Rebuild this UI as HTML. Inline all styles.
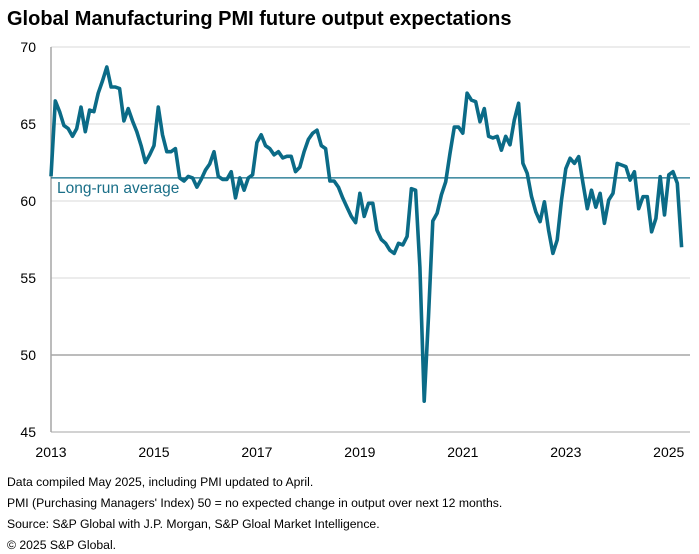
<!DOCTYPE html>
<html><head><meta charset="utf-8"><style>
body{margin:0;background:#fff;font-family:"Liberation Sans",Arial,sans-serif;}
#wrap{position:relative;width:699px;height:554px;overflow:hidden;}
.t{position:absolute;white-space:nowrap;color:#000;}
</style></head><body>
<div id="wrap">
<div class="t" style="left:7px;top:8px;font-size:20px;font-weight:bold;">Global Manufacturing PMI future output expectations</div>
<svg id="chart" width="699" height="470" style="position:absolute;left:0;top:0"></svg>
<div class="t" style="left:7px;top:475px;font-size:12.2px;">Data compiled May 2025, including PMI updated to April.</div>
<div class="t" style="left:7px;top:496px;font-size:12.2px;">PMI (Purchasing Managers' Index) 50 = no expected change in output over next 12 months.</div>
<div class="t" style="left:7px;top:517px;font-size:12.2px;">Source: S&amp;P Global with J.P. Morgan, S&amp;P Gloal Market Intelligence.</div>
<div class="t" style="left:7px;top:538px;font-size:12.2px;">© 2025 S&amp;P Global.</div>
</div>
<script>
const yTicks=[45,50,55,60,65,70];
const xTickLabels=["2013","2015","2017","2019","2021","2023","2025"];
const longRunAverage=61.5;
const values=[61.6,66.5,65.8,64.9,64.7,64.2,64.7,66.1,64.5,65.9,65.8,67.0,67.8,68.7,67.4,67.4,67.3,65.2,66.0,65.2,64.5,63.6,62.5,63.0,63.6,66.1,64.3,63.2,63.2,63.4,61.5,61.3,61.6,61.5,60.9,61.4,62.0,62.4,63.2,61.6,61.4,61.4,61.9,60.2,61.5,60.7,61.5,61.7,63.8,64.3,63.6,63.4,63.0,63.2,62.8,62.9,62.9,61.9,62.2,63.2,64.0,64.4,64.6,63.6,63.4,61.3,61.3,60.9,60.2,59.6,59.0,58.6,60.5,59.0,
59.85,59.85,58.1,57.5,57.25,56.8,56.6,57.25,57.15,57.7,60.8,60.7,55.7,47.0,52.5,58.7,59.2,60.4,61.25,63.1,64.8,64.8,64.4,67.0,66.55,66.45,65.15,66.0,64.2,64.1,64.2,63.3,64.2,63.65,65.25,66.35,62.45,61.8,60.3,59.3,58.66,59.95,58.1,56.6,57.47,60.06,62.1,62.77,62.44,62.88,61.15,59.5,60.7,59.6,60.5,58.55,60.06,60.5,62.44,62.34,62.23,61.36,61.9,59.5,60.28,60.28,58.0,58.87,61.58,59.1,61.7,61.9,61.15,57.0];
const NS="http://www.w3.org/2000/svg";
const svg=document.getElementById('chart');
const x0=51,pxPerMonth=4.29,plotRight=690;
const xS=m=>x0+m*pxPerMonth;
const yS=v=>432-(v-45)*15.4;
function mk(tag,attrs){const e=document.createElementNS(NS,tag);for(const k in attrs)e.setAttribute(k,attrs[k]);svg.appendChild(e);return e;}
yTicks.forEach(v=>{
 const g=mk('line',{x1:x0,x2:plotRight,y1:yS(v),y2:yS(v),stroke:(v===50||v===45)?'#a6a6a6':'#d9d9d9','stroke-width':v===50?1.5:1});
 
 
 const t=mk('text',{x:36,y:yS(v)+5,'text-anchor':'end','font-size':14,fill:'#000'});
 t.textContent=v;
 
 
});
const ax=mk('line',{x1:x0,x2:x0,y1:yS(70),y2:yS(45),stroke:'#a6a6a6','stroke-width':1.5});


xTickLabels.forEach((l,i)=>{
 const t=mk('text',{x:xS(i*24),y:457,'text-anchor':'middle','font-size':14,fill:'#000'});
 t.textContent=l;
 
 
});
const la=mk('line',{x1:x0,x2:plotRight,y1:yS(longRunAverage),y2:yS(longRunAverage),stroke:'#0b6b87','stroke-width':1.2});


const lt=mk('text',{x:57,y:yS(longRunAverage)+15,'font-size':15.5,fill:'#1a6f88'});
lt.textContent='Long-run average';


const p=mk('polyline',{points:values.map((v,i)=>xS(i).toFixed(1)+','+yS(v).toFixed(1)).join(' '),fill:'none',stroke:'#0b6b87','stroke-width':3.6,'stroke-linejoin':'round'});


</script>
</body></html>
